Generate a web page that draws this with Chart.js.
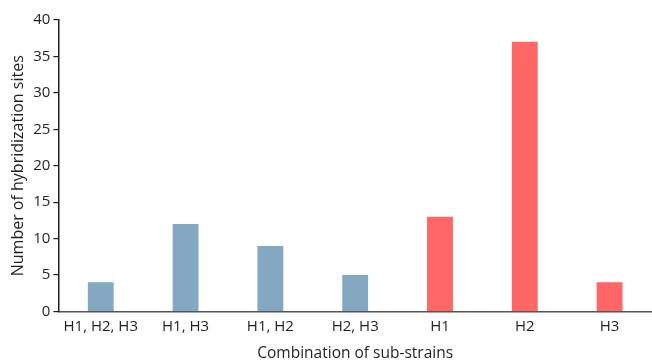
<!DOCTYPE html>
<html>
<head>
<meta charset="utf-8">
<script src="https://cdn.jsdelivr.net/npm/chart.js@4/dist/chart.umd.min.js"></script>
<style>
  html, body { margin: 0; padding: 0; background: #fff; }
  #wrap { width: 652px; height: 361px; }
</style>
</head>
<body>
<div id="wrap"><canvas id="chart"></canvas></div>
<script>
const categories = ['H1, H2, H3', 'H1, H3', 'H1, H2', 'H2, H3', 'H1', 'H2', 'H3'];
const sites = [4, 12, 9, 5, 13, 37, 4];
const barColors = ['#84a7c2', '#84a7c2', '#84a7c2', '#84a7c2', '#ff6666', '#ff6666', '#ff6666'];

const textColor = '#231f20';

new Chart(document.getElementById('chart'), {
    type: 'bar',
    data: {
        labels: categories,
        datasets: [{
            data: sites,
            backgroundColor: barColors,
            borderWidth: 0,
            barPercentage: 1,
            categoryPercentage: 0.305
        }]
    },
    options: {
        responsive: true,
        maintainAspectRatio: false,
        animation: false,
        layout: { padding: { top: 20, right: -3, left: 5, bottom: 0 } },
        plugins: { legend: { display: false }, tooltip: { enabled: false } },
        scales: {
            x: {
                grid: { display: false, drawTicks: false },
                border: { display: true, color: '#555', width: 1.5 },
                ticks: { color: textColor, font: { family: 'Open Sans', size: 15 }, padding: 6 },
                title: { display: true, text: 'Combination of sub-strains', color: textColor, font: { family: 'Open Sans', size: 15.5, lineHeight: 1 }, padding: { top: 4, bottom: 0 } }
            },
            y: {
                min: 0,
                max: 40,
                grid: { drawOnChartArea: false, drawTicks: true, tickLength: 5, color: '#231f20', lineWidth: 1.2 },
                border: { display: true, color: '#231f20', width: 1.5 },
                ticks: { stepSize: 5, color: textColor, font: { family: 'Open Sans', size: 15 }, padding: 3 },
                title: { display: true, text: 'Number of hybridization sites', color: textColor, font: { family: 'Open Sans', size: 16 }, padding: { bottom: 2 } }
            }
        }
    }
});
</script>
</body>
</html>
